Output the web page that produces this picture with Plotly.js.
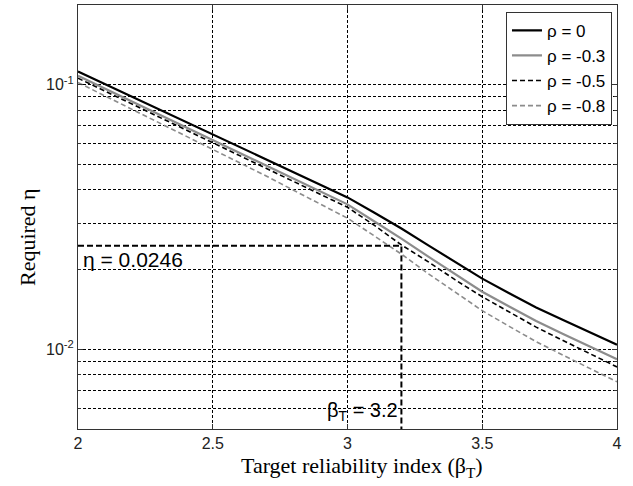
<!DOCTYPE html>
<html>
<head>
<meta charset="utf-8">
<script src="https://cdn.plot.ly/plotly-3.0.1.min.js"></script>
<style>html,body{margin:0;padding:0;background:#fff;}#chart{width:633px;height:486px;}</style>
</head>
<body>
<div id="chart"></div>
<script>
// Target reliability index values
const beta = [2.0,2.1,2.2,2.3,2.4,2.5,2.6,2.7,2.8,2.9,3.0,3.1,3.2,3.3,3.4,3.5,3.6,3.7,3.8,3.9,4.0];
// Required eta for each correlation
const etaRho0   = [0.1122,0.1006,0.0902,0.0808,0.0725,0.0650,0.0583,0.0523,0.0469,0.0420,0.0375,0.0328,0.0286,0.0247,0.0213,0.0185,0.0163,0.0144,0.0129,0.01156,0.0104];
const etaRho03  = [0.1080,0.0966,0.0865,0.0773,0.0692,0.0619,0.0554,0.0496,0.0443,0.0396,0.0353,0.0304,0.0262,0.0224,0.0192,0.0165,0.01451,0.01279,0.01143,0.01023,0.00918];
const etaRho05  = [0.1058,0.0946,0.0847,0.0757,0.0678,0.0606,0.0542,0.0484,0.0433,0.0386,0.0344,0.0294,0.0248,0.0214,0.0183,0.0158,0.01382,0.01213,0.01079,0.00960,0.00858];
const etaRho08  = [0.1019,0.0907,0.0808,0.0719,0.0640,0.0570,0.0507,0.0451,0.0399,0.0354,0.0313,0.0268,0.0229,0.0193,0.0164,0.0140,0.01221,0.01069,0.00950,0.00845,0.00754];
const seriesNames = ['ρ = 0','ρ = -0.3','ρ = -0.5','ρ = -0.8'];
// Highlighted design point
const betaTarget = 3.2;
const etaTarget = 0.0246;
const etaAxisMin = 0.005;
const etaAxisMax = 0.2;
// Ticks and titles
const xTickVals = [2,2.5,3,3.5,4];
const xTickText = ['2','2.5','3','3.5','4'];
const yTickVals = [0.01,0.1];
const yTickText = ['10<sup>-2</sup>','10<sup>-1</sup>'];
const yMinorVals = [0.005,0.006,0.007,0.008,0.009,0.02,0.03,0.04,0.05,0.06,0.07,0.08,0.09];
const xTitle = 'Target reliability index (β<sub>T</sub>)';
const yTitle = 'Required η';

const traces = [
  {x: beta, y: etaRho0, name: seriesNames[0], mode:'lines', line:{color:'#000000', width:2.2}},
  {x: beta, y: etaRho03, name: seriesNames[1], mode:'lines', line:{color:'#8c8c8c', width:2.2}},
  {x: beta, y: etaRho05, name: seriesNames[2], mode:'lines', line:{color:'#000000', width:1.6, dash:'5px,3px'}},
  {x: beta, y: etaRho08, name: seriesNames[3], mode:'lines', line:{color:'#8c8c8c', width:1.6, dash:'5px,3px'}},
  {x: [xTickVals[0], betaTarget, betaTarget], y: [etaTarget, etaTarget, etaAxisMin], mode:'lines', showlegend:false, hoverinfo:'skip',
   line:{color:'#000000', width:2, dash:'6px,3px'}, cliponaxis:false}
];

const gridDash = '3px,2px';
const titleFont = {family:'Liberation Serif, Times New Roman, serif', size:22, color:'#000'};
const layout = {
  width: 633, height: 486,
  margin: {l:78, r:16, t:5, b:57},
  paper_bgcolor:'#ffffff', plot_bgcolor:'#ffffff',
  font: {family:'Liberation Sans, Arial, sans-serif', color:'#000'},
  showlegend: true,
  legend: {x:0.9907, y:0.984, xanchor:'right', yanchor:'top', bgcolor:'#ffffff', bordercolor:'#333', borderwidth:1,
           font:{family:'Liberation Sans, Arial, sans-serif', size:17, color:'#000'}},
  xaxis: {
    range:[2,4], tickmode:'array', tickvals:xTickVals, ticktext:xTickText,
    showgrid:true, gridcolor:'#000', gridwidth:1, griddash:gridDash,
    showline:true, linecolor:'#333', linewidth:1, mirror:'ticks',
    ticks:'inside', ticklen:5, tickcolor:'#333',
    tickfont:{size:16, color:'#222'}, zeroline:false
  },
  yaxis: {
    type:'log', range:[Math.log10(etaAxisMin), Math.log10(etaAxisMax)],
    tickmode:'array', tickvals:yTickVals, ticktext:yTickText,
    showgrid:true, gridcolor:'#000', gridwidth:1, griddash:gridDash,
    showline:true, linecolor:'#333', linewidth:1, mirror:'ticks',
    ticks:'inside', ticklen:5, tickcolor:'#333',
    minor:{tickmode:'array', tickvals:yMinorVals, showgrid:true, gridcolor:'#000', gridwidth:1, griddash:gridDash,
           ticks:'inside', ticklen:3, tickcolor:'#333'},
    tickfont:{size:16, color:'#222'}, zeroline:false
  },
  annotations: [
    {x:0.527, y:-0.0896, xref:'paper', yref:'paper', xanchor:'center', yanchor:'middle',
     text:xTitle, showarrow:false, font:titleFont},
    {x:-0.0946, y:0.4528, xref:'paper', yref:'paper', xanchor:'center', yanchor:'middle', textangle:-90,
     text:yTitle, showarrow:false, font:titleFont},
    {x:xTickVals[0], y:Math.log10(etaTarget), xref:'x', yref:'y', xanchor:'left', yanchor:'top', yshift:0, xshift:3,
     text:'η = ' + etaTarget, showarrow:false, font:{size:21, color:'#000'}},
    {x:betaTarget, y:Math.log10(etaAxisMin), xref:'x', yref:'y', xanchor:'right', yanchor:'bottom', yshift:3, xshift:-1,
     text:'β<sub>T</sub> = ' + betaTarget, showarrow:false, font:{size:20, color:'#000'}}
  ]
};

Plotly.newPlot('chart', traces, layout, {displayModeBar:false, staticPlot:true});
</script>
</body>
</html>
